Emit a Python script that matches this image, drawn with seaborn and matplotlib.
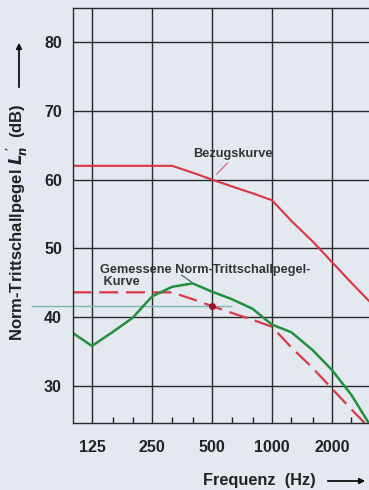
import numpy as np
import pandas as pd
import matplotlib
matplotlib.use("Agg")
import matplotlib.pyplot as plt
import seaborn as sns

# Terzmittenfrequenzen (Hz)
freqs = [100, 125, 160, 200, 250, 315, 400, 500, 630, 800, 1000, 1250, 1600, 2000, 2500, 3150]
# Bezugskurve
bezug = [62, 62, 62, 62, 62, 62, 61, 60, 59, 58, 57, 54, 51, 48, 45, 42]
# verschobene Bezugskurve (gestrichelt)
verschoben = [43.6, 43.6, 43.6, 43.6, 43.6, 43.6, 42.6, 41.6, 40.6, 39.6, 38.6, 35.6, 32.6, 29.6, 26.6, 23.6]
# gemessene Norm-Trittschallpegel-Kurve
gemessen = [37.7, 35.8, 37.9, 39.9, 43.0, 44.4, 44.9, 43.7, 42.6, 41.2, 38.9, 37.8, 35.2, 32.3, 28.7, 24.0]

major_ticks = [125, 250, 500, 1000, 2000]
minor_ticks = [160, 200, 315, 400, 630, 800, 1250, 1600, 2500]
y_ticks = [30, 40, 50, 60, 70, 80]
lnw = 41.6
lnw_freq = 500

bg = "#e4e8f0"
sns.set_theme(style="white", rc={"axes.facecolor": bg, "figure.facecolor": bg})
plt.rcParams["font.family"] = ["Liberation Sans", "DejaVu Sans"]
plt.rcParams["font.weight"] = "bold"
plt.rcParams["mathtext.fontset"] = "custom"
plt.rcParams["mathtext.it"] = "DejaVu Sans:italic:bold"
plt.rcParams["mathtext.rm"] = "DejaVu Sans:bold"

df = pd.DataFrame({"f": freqs * 3,
                   "L": bezug + verschoben + gemessen,
                   "Kurve": ["Bezug"] * len(freqs) + ["Verschoben"] * len(freqs) + ["Gemessen"] * len(freqs)})

fig = plt.figure(figsize=(3.69, 4.90), dpi=100)
ax = fig.add_axes([73 / 369, 67 / 490, 1 - 73 / 369, 415 / 490])

pal = {"Bezug": "#dc3440", "Verschoben": "#d83a48", "Gemessen": "#22913c"}
sns.lineplot(data=df[df.Kurve == "Bezug"], x="f", y="L", color=pal["Bezug"], lw=1.5, ax=ax)
sns.lineplot(data=df[df.Kurve == "Verschoben"], x="f", y="L", color=pal["Verschoben"], lw=1.6,
             ax=ax, dashes=False, linestyle=(0, (8.5, 3.5)))
sns.lineplot(data=df[df.Kurve == "Gemessen"], x="f", y="L", color=pal["Gemessen"], lw=1.8, ax=ax)

ax.set_xscale("log")
ax.set_xlim(100.4, 3067)
ax.set_ylim(24.6, 84.95)

ax.set_xticks(major_ticks)
ax.set_xticklabels([str(t) for t in major_ticks])
ax.set_xticks(minor_ticks, minor=True)
ax.set_xticklabels([], minor=True)
ax.set_yticks(y_ticks)
ax.set_yticklabels([str(t) for t in y_ticks])
ax.tick_params(axis="x", which="major", length=0, pad=12, labelsize=11.5, labelcolor="#222222")
ax.tick_params(axis="x", which="minor", direction="in", length=4, width=1, color="#222222", bottom=True)
ax.tick_params(axis="y", length=0, pad=8, labelsize=11.5, labelcolor="#222222")
for lab in ax.get_xticklabels() + ax.get_yticklabels():
    lab.set_fontweight("bold")

ax.grid(True, which="major", color="#2a2a2a", lw=1)
ax.set_axisbelow(True)
for s in ["left", "bottom", "top"]:
    ax.spines[s].set_color("#2a2a2a")
    ax.spines[s].set_linewidth(1)
ax.spines["right"].set_visible(False)

ax.set_xlabel("")
ax.set_ylabel("")

ax.hlines(lnw, 61.5, 630, color="#7bbab6", lw=1, clip_on=False, zorder=1)
ax.plot([lnw_freq], [lnw], "o", color="#9a1426", ms=4, zorder=5)

# Beschriftungen
ax.text(400, 63.3, "Bezugskurve", fontsize=9.2, fontweight="bold", color="#333333")
ax.plot([528, 599], [60.8, 62.4], color="#d86878", lw=0.9)
ax.text(137, 44.2, "Gemessene Norm-Trittschallpegel-\n Kurve", fontsize=9.2, fontweight="bold",
        color="#333333", linespacing=1.05, va="bottom")
ax.plot([352, 395], [46.1, 45.1], color="#507060", lw=0.9)

fig.text(17 / 369, 1 - 222 / 490, r"Norm-Trittschallpegel $L_{\!n}^{\,\prime}$  (dB)", rotation=90,
         ha="center", va="center", fontsize=12, fontweight="bold", color="#222222")
fig.text(259 / 369, 1 - 480 / 490, "Frequenz  (Hz)", ha="center", va="center",
         fontsize=11.8, fontweight="bold", color="#222222")
fig.add_artist(matplotlib.patches.FancyArrowPatch((19 / 369, 1 - 90 / 490), (19 / 369, 1 - 40 / 490),
               transform=fig.transFigure, arrowstyle="-|>", mutation_scale=8, lw=1.3, color="#111111"))
fig.add_artist(matplotlib.patches.FancyArrowPatch((325 / 369, 1 - 481 / 490), (368 / 369, 1 - 481 / 490),
               transform=fig.transFigure, arrowstyle="-|>", mutation_scale=8, lw=1.3, color="#111111"))

fig.savefig("out.png", dpi=100, facecolor=bg)
